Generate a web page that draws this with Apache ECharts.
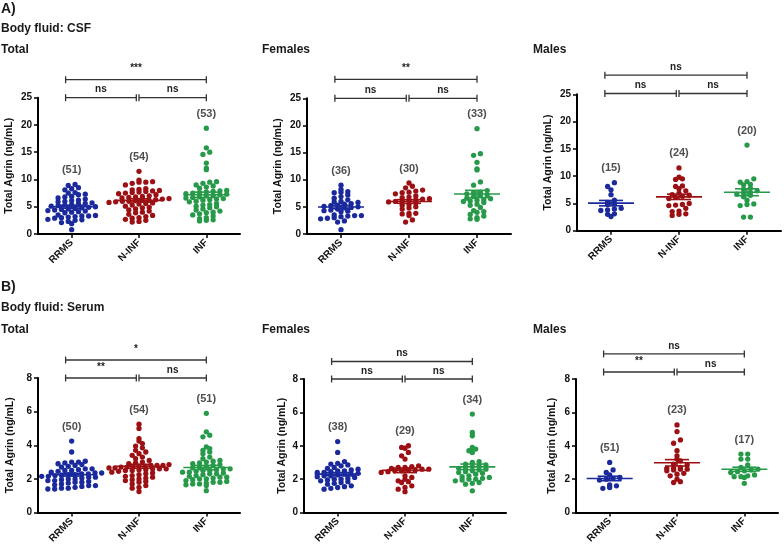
<!DOCTYPE html>
<html><head><meta charset="utf-8">
<script src="https://cdn.jsdelivr.net/npm/echarts@6/dist/echarts.min.js"></script>
<style>html,body{margin:0;padding:0;background:#fff}#c{width:784px;height:546px}</style>
</head><body><div id="c"></div>
<script>
const categories = ['RRMS', 'N-INF', 'INF'];
const csfTicks = [0, 5, 10, 15, 20, 25];
const serumTicks = [0, 2, 4, 6, 8];

// CSF - Total
const csfTotal_RRMS = [9.1,8.9,8.5,8.3,8.1,7.6,7.5,7.3,7.2,6.9,6.8,6.6,6.4,6.1,6.0,5.9,5.7,5.5,5.4,5.3,5.2,5.1,5.0,4.9,4.8,4.7,4.6,4.5,4.4,4.3,4.1,4.0,3.9,3.5,3.4,3.3,3.3,3.2,3.1,3.0,2.9,2.7,2.6,2.5,2.3,2.1,1.9,5.6,4.2,6.2,0.8];
const csfTotal_NINF = [11.5,9.9,9.6,9.5,9.5,9.3,9.0,8.3,8.2,8.1,8.0,7.9,7.8,7.7,7.6,7.5,7.4,7.2,7.0,6.9,6.8,6.7,6.6,6.5,6.4,6.3,6.2,6.2,6.1,6.0,5.9,5.8,5.7,5.6,5.5,5.3,5.1,4.9,4.8,4.6,4.4,4.2,4.0,3.9,3.6,3.4,3.2,3.0,2.9,2.7,2.5,2.3,2.2,6.0];
const csfTotal_INF = [19.4,15.8,15.0,14.6,13.0,12.1,11.8,9.6,9.5,9.3,9.0,8.8,8.6,8.4,8.0,7.9,7.8,7.7,7.6,7.5,7.4,7.3,7.2,7.0,6.8,6.7,6.5,6.4,6.3,6.2,6.0,5.9,5.6,5.4,5.3,5.0,4.8,4.6,4.4,4.2,4.0,3.9,3.7,3.5,3.3,3.0,2.8,2.6,2.5,2.4,6.6,7.1,5.1];
// CSF - Females
const csfFemales_RRMS = [9.0,8.2,7.8,7.7,7.6,7.2,6.9,6.6,6.0,5.9,5.8,5.6,5.3,5.2,5.1,5.0,4.9,4.8,4.6,4.4,4.3,4.2,4.1,3.5,3.4,3.4,3.3,3.2,3.0,2.9,2.8,2.4,2.2,5.5,6.3,0.8];
const csfFemales_NINF = [9.4,8.8,8.5,8.1,7.9,7.7,7.6,7.4,7.0,6.8,6.7,6.5,6.3,6.2,6.1,6.0,5.9,5.7,5.5,5.3,5.0,4.8,4.6,3.8,3.7,3.4,3.8,2.6,2.2,6.4];
const csfFemales_INF = [19.4,14.8,14.5,13.2,12.0,11.8,9.6,9.0,8.0,7.7,7.6,7.4,7.2,6.9,6.6,6.3,6.2,6.1,6.0,5.8,5.5,5.3,4.9,4.3,4.1,4.0,3.6,3.3,3.0,2.8,2.7,7.1,6.5];
// CSF - Males
const csfMales_RRMS = [8.8,8.1,7.5,6.6,5.6,5.2,4.9,4.8,4.1,4.0,3.8,3.7,3.1,3.0,2.6];
const csfMales_NINF = [11.5,9.8,9.5,9.4,8.2,8.1,7.7,7.3,6.9,6.6,6.5,6.3,6.1,5.9,5.0,4.8,4.7,4.6,4.1,3.6,3.5,3.1,3.0,2.8];
const csfMales_INF = [15.7,9.5,9.0,8.9,8.5,8.4,7.8,7.6,7.0,6.9,6.7,6.5,6.2,5.6,4.9,4.8,4.6,2.5,2.5,7.3];
// Serum - Total
const serumTotal_RRMS = [4.25,3.6,3.05,3.0,3.0,2.95,2.9,2.85,2.8,2.75,2.7,2.6,2.55,2.5,2.5,2.45,2.4,2.35,2.3,2.3,2.25,2.2,2.2,2.15,2.1,2.1,2.05,2.0,2.0,1.95,1.9,1.9,1.85,1.8,1.8,1.75,1.7,1.65,1.6,1.6,1.55,1.5,1.45,1.45,1.4,2.25,2.35,2.15,1.4,2.6];
const serumTotal_NINF = [5.25,5.0,4.4,4.25,4.1,3.95,3.85,3.7,3.6,3.5,3.4,3.3,3.2,3.1,3.0,2.95,2.9,2.85,2.8,2.8,2.75,2.75,2.7,2.7,2.7,2.65,2.65,2.6,2.6,2.6,2.55,2.55,2.5,2.5,2.45,2.4,2.35,2.3,2.25,2.2,2.15,2.1,2.05,2.0,1.95,1.9,1.85,1.8,1.7,1.6,1.5,1.45,1.25,2.8];
const serumTotal_INF = [5.9,4.8,4.6,4.5,3.9,3.8,3.7,3.6,3.5,3.3,3.2,3.1,3.05,3.0,2.95,2.9,2.85,2.8,2.75,2.7,2.65,2.6,2.6,2.55,2.5,2.45,2.4,2.4,2.35,2.3,2.25,2.2,2.15,2.1,2.05,2.0,2.0,1.95,1.9,1.85,1.8,1.8,1.75,1.7,1.7,1.65,1.6,1.3,2.5,2.3,2.1];
// Serum - Females
const serumFemales_RRMS = [4.25,3.6,3.05,2.95,2.9,2.85,2.8,2.7,2.6,2.55,2.5,2.45,2.4,2.35,2.3,2.3,2.25,2.2,2.2,2.15,2.1,2.05,2.0,2.0,1.95,1.9,1.85,1.8,1.75,1.7,1.6,1.55,1.5,1.45,1.4,2.4,2.65,2.5];
const serumFemales_NINF = [4.0,3.9,3.85,3.6,3.4,3.2,2.8,2.75,2.7,2.7,2.65,2.6,2.6,2.55,2.5,2.5,2.45,2.4,2.2,2.1,2.0,1.9,1.85,1.8,1.6,1.5,1.4,1.25,2.55];
const serumFemales_INF = [5.9,4.8,4.6,3.9,3.8,3.7,3.6,3.05,3.0,2.9,2.85,2.8,2.75,2.7,2.6,2.5,2.45,2.4,2.3,2.2,2.1,2.05,2.0,2.0,1.95,1.9,1.8,1.75,1.7,1.3,2.65,2.35,2.55,2.15];
// Serum - Males
const serumMales_RRMS = [3.0,2.55,2.4,2.25,2.1,2.05,2.0,1.95,1.65,1.6,1.5,1.45];
const serumMales_NINF = [5.25,4.85,4.35,4.15,3.7,3.4,3.2,2.9,2.85,2.7,2.65,2.6,2.6,2.55,2.5,2.35,2.3,2.2,2.0,1.85,1.8,3.1,2.65];
const serumMales_INF = [3.5,3.5,3.2,3.2,2.85,2.7,2.6,2.55,2.5,2.45,2.25,2.2,2.15,2.15,2.1,1.75,2.4];

// group size labels (as printed)
const csfTotal_n = ['(51)', '(54)', '(53)'];
const csfFemales_n = ['(36)', '(30)', '(33)'];
const csfMales_n = ['(15)', '(24)', '(20)'];
const serumTotal_n = ['(50)', '(54)', '(51)'];
const serumFemales_n = ['(38)', '(29)', '(34)'];
const serumMales_n = ['(51)', '(23)', '(17)'];

// significance: [RRMS vs N-INF, N-INF vs INF, RRMS vs INF]
const csfTotal_sig = ['ns', 'ns', '***'];
const csfFemales_sig = ['ns', 'ns', '**'];
const csfMales_sig = ['ns', 'ns', 'ns'];
const serumTotal_sig = ['**', 'ns', '*'];
const serumFemales_sig = ['ns', 'ns', 'ns'];
const serumMales_sig = ['**', 'ns', 'ns'];

const colors = ['#1a2a9c', '#9c1014', '#279a4a'];
const FONT = 'Arial, "Liberation Sans", Helvetica, sans-serif';

const panels = [
  {groups: [csfTotal_RRMS, csfTotal_NINF, csfTotal_INF], n: csfTotal_n, sig: csfTotal_sig, ticks: csfTicks,
   grid: {left: 38, top: 97.7, width: 202, height: 136.3}, br: [25, 28.3], nameGap: 23},
  {groups: [csfFemales_RRMS, csfFemales_NINF, csfFemales_INF], n: csfFemales_n, sig: csfFemales_sig, ticks: csfTicks,
   grid: {left: 307, top: 98.3, width: 204, height: 135.7}, br: [25, 28.5], nameGap: 23},
  {groups: [csfMales_RRMS, csfMales_NINF, csfMales_INF], n: csfMales_n, sig: csfMales_sig, ticks: csfTicks,
   grid: {left: 577, top: 94.3, width: 204, height: 136.4}, br: [25.15, 28.5], nameGap: 23},
  {groups: [serumTotal_RRMS, serumTotal_NINF, serumTotal_INF], n: serumTotal_n, sig: serumTotal_sig, ticks: serumTicks,
   grid: {left: 38, top: 378, width: 202, height: 134.7}, br: [8.0, 9.07], nameGap: 22},
  {groups: [serumFemales_RRMS, serumFemales_NINF, serumFemales_INF], n: serumFemales_n, sig: serumFemales_sig, ticks: serumTicks,
   grid: {left: 304, top: 379, width: 202, height: 133.7}, br: [8.0, 9.05], nameGap: 16},
  {groups: [serumMales_RRMS, serumMales_NINF, serumMales_INF], n: serumMales_n, sig: serumMales_sig, ticks: serumTicks,
   grid: {left: 576, top: 379, width: 202, height: 133.7}, br: [8.42, 9.5], nameGap: 18}
];

// GraphPad-like scatter layout: points binned into rows, centred horizontally (pixel offsets)
function rowLayout(values, pxPerUnit, rowH, step, maxHalf) {
  const rows = {};
  values.forEach((v, i) => {
    const r = Math.round(v * pxPerUnit / rowH);
    (rows[r] = rows[r] || []).push(i);
  });
  const off = new Array(values.length);
  Object.keys(rows).forEach(r => {
    const ids = rows[r].sort((a, b) => values[a] - values[b]);
    const k = ids.length;
    let s = step;
    if ((k - 1) * s / 2 > maxHalf) s = 2 * maxHalf / (k - 1);
    ids.forEach((id, j) => { off[id] = (j - (k - 1) / 2) * s; });
  });
  return off;
}

function meanSem(arr) {
  const n = arr.length;
  const m = arr.reduce((a, b) => a + b, 0) / n;
  const sd = Math.sqrt(arr.reduce((a, b) => a + (b - m) * (b - m), 0) / (n - 1));
  return [m, sd / Math.sqrt(n)];
}

const grids = [], xAxes = [], yAxes = [], series = [];
panels.forEach((P, p) => {
  grids.push(Object.assign({containLabel: false}, P.grid));
  const tmin = P.ticks[0], tmax = P.ticks[P.ticks.length - 1];
  const pxY = P.grid.height / (tmax - tmin);
  const pxX = P.grid.width / 3;
  xAxes.push({
    type: 'category', gridIndex: p, data: categories, boundaryGap: true,
    axisLine: {show: true, onZero: false, lineStyle: {color: '#000', width: 2}},
    axisTick: {show: true, alignWithLabel: true, length: 4, lineStyle: {color: '#000', width: 1.5}},
    axisLabel: {rotate: 45, fontSize: 10, fontWeight: 'bold', color: '#111', margin: 7, fontFamily: FONT},
    splitLine: {show: false}
  });
  xAxes.push({type: 'value', gridIndex: p, min: -0.5, max: 2.5, show: false});
  yAxes.push({
    type: 'value', gridIndex: p, min: tmin, max: tmax, interval: P.ticks[1] - P.ticks[0],
    axisLine: {show: true, onZero: false, lineStyle: {color: '#000', width: 2}},
    axisTick: {show: true, length: 4, lineStyle: {color: '#000', width: 1.5}},
    axisLabel: {fontSize: 10, fontWeight: 'bold', color: '#111', margin: 6, fontFamily: FONT},
    splitLine: {show: false},
    name: 'Total Agrin (ng/mL)', nameLocation: 'middle', nameRotate: 90, nameGap: P.nameGap,
    nameTextStyle: {fontSize: 10.5, fontWeight: 'bold', color: '#111', fontFamily: FONT}
  });
  const xv = 2 * p + 1;
  P.groups.forEach((vals, g) => {
    const off = rowLayout(vals, pxY, 4.2, 6.8, 30);
    series.push({
      type: 'scatter', xAxisIndex: xv, yAxisIndex: p, symbol: 'circle', symbolSize: 5.3,
      itemStyle: {color: colors[g], opacity: 1},
      data: vals.map((v, i) => [g + off[i] / pxX, v]), z: 3, silent: true
    });
  });
  // mean +/- SEM
  series.push({
    type: 'custom', xAxisIndex: xv, yAxisIndex: p, z: 5, clip: false, silent: true,
    data: P.groups.map((vals, g) => { const [m, s] = meanSem(vals); return [g, m, m - s, m + s]; }),
    renderItem: (params, api) => {
      const g = api.value(0);
      const c = api.coord([g, api.value(1)]);
      const lo = api.coord([g, api.value(2)]);
      const hi = api.coord([g, api.value(3)]);
      const col = colors[g];
      const st = {stroke: col, lineWidth: 1.6};
      return {type: 'group', children: [
        {type: 'line', shape: {x1: c[0] - 23, y1: c[1], x2: c[0] + 23, y2: c[1]}, style: st},
        {type: 'line', shape: {x1: c[0], y1: lo[1], x2: c[0], y2: hi[1]}, style: st},
        {type: 'line', shape: {x1: c[0] - 12, y1: lo[1], x2: c[0] + 12, y2: lo[1]}, style: st},
        {type: 'line', shape: {x1: c[0] - 12, y1: hi[1], x2: c[0] + 12, y2: hi[1]}, style: st}
      ]};
    }
  });
  // n labels above each group
  series.push({
    type: 'scatter', xAxisIndex: xv, yAxisIndex: p, symbolSize: 0, silent: true, z: 6,
    data: P.groups.map((vals, g) => [g, Math.max.apply(null, vals)]),
    label: {show: true, position: 'top', distance: 9, fontSize: 11, fontWeight: 'bold', color: '#222', fontFamily: FONT,
      formatter: prm => P.n[prm.dataIndex]}
  });
  // significance brackets
  series.push({
    type: 'custom', xAxisIndex: xv, yAxisIndex: p, z: 6, clip: false, silent: true,
    data: [[-0.09, 0.96, P.br[0]], [1.0, 2.0, P.br[0]], [-0.09, 2.0, P.br[1]]],
    renderItem: (params, api) => {
      const a = api.coord([api.value(0), api.value(2)]);
      const b = api.coord([api.value(1), api.value(2)]);
      const st = {stroke: '#333', lineWidth: 1.3};
      const t = P.sig[params.dataIndex];
      return {type: 'group', children: [
        {type: 'line', shape: {x1: a[0], y1: a[1], x2: b[0], y2: b[1]}, style: st},
        {type: 'line', shape: {x1: a[0], y1: a[1] - 3.5, x2: a[0], y2: a[1] + 3.5}, style: st},
        {type: 'line', shape: {x1: b[0], y1: b[1] - 3.5, x2: b[0], y2: b[1] + 3.5}, style: st},
        {type: 'text', x: (a[0] + b[0]) / 2, y: a[1] - (t.indexOf('*') >= 0 ? 6 : 3),
          style: {text: t, font: 'bold 10px ' + FONT, fill: '#222', align: 'center', verticalAlign: 'bottom'}}
      ]};
    }
  });
});

function txt(t, x, y, size) {
  return {type: 'text', x: x, y: y, style: {text: t, font: 'bold ' + size + 'px ' + FONT, fill: '#1a1a1a', verticalAlign: 'middle'}};
}

const chart = echarts.init(document.getElementById('c'), null, {renderer: 'canvas'});
chart.setOption({
  animation: false,
  backgroundColor: '#fff',
  textStyle: {fontFamily: FONT},
  grid: grids, xAxis: xAxes, yAxis: yAxes, series: series,
  graphic: [
    txt('A)', 1, 9, 14),
    txt('Body fluid: CSF', 1, 29, 12),
    txt('Total', 1, 50, 12),
    txt('Females', 262, 50, 12),
    txt('Males', 533, 50, 12),
    txt('B)', 1, 287, 14),
    txt('Body fluid: Serum', 1, 308, 12),
    txt('Total', 1, 330, 12),
    txt('Females', 262, 330, 12),
    txt('Males', 533, 330, 12)
  ]
});
</script>
</body></html>
